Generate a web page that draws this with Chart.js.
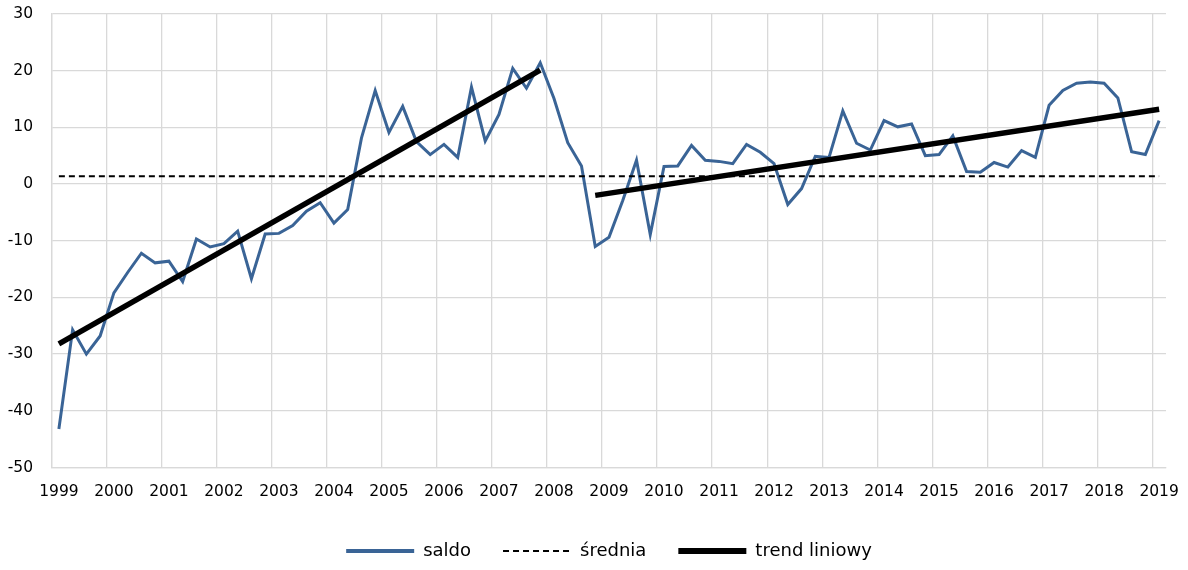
<!DOCTYPE html>
<html>
<head>
<meta charset="utf-8">
<script src="https://cdn.jsdelivr.net/npm/chart.js@4/dist/chart.umd.min.js"></script>
<style>
  html, body { margin: 0; padding: 0; background: #ffffff; }
  #wrap { width: 1188px; height: 570px; position: relative; }
</style>
</head>
<body>
<div id="wrap"><canvas id="c"></canvas></div>
<script>
// ---- data ----
const YEARS = [1999, 2000, 2001, 2002, 2003, 2004, 2005, 2006, 2007, 2008, 2009,
               2010, 2011, 2012, 2013, 2014, 2015, 2016, 2017, 2018, 2019];
const QUARTERS = ['Q1', 'Q2', 'Q3', 'Q4'];

// saldo, quarterly 1999 Q1 – 2019 Q1
const SALDO = [
  -43.2, -25.7, -30.0, -26.8,   // 1999
  -19.2, -15.6, -12.2, -13.9,   // 2000
  -13.6, -17.2,  -9.7, -11.1,   // 2001
  -10.5,  -8.3, -16.7,  -8.8,   // 2002
   -8.7,  -7.3,  -4.8,  -3.3,   // 2003
   -6.9,  -4.5,   8.1,  16.5,   // 2004
    9.1,  13.7,   7.5,   5.2,   // 2005
    7.0,   4.7,  17.1,   7.6,   // 2006
   12.3,  20.4,  16.9,  21.4,   // 2007
   15.1,   7.3,   3.2, -11.0,   // 2008
   -9.4,  -2.9,   4.2,  -8.9,   // 2009
    3.1,   3.2,   6.8,   4.2,   // 2010
    4.0,   3.6,   7.0,   5.6,   // 2011
    3.6,  -3.6,  -0.8,   4.9,   // 2012
    4.7,  12.9,   7.2,   6.0,   // 2013
   11.2,  10.1,  10.6,   5.0,   // 2014
    5.2,   8.5,   2.2,   2.1,   // 2015
    3.8,   3.0,   5.9,   4.7,   // 2016
   13.9,  16.5,  17.8,  18.0,   // 2017
   17.8,  15.2,   5.7,   5.2,   // 2018
   11.2                         // 2019
];
const MEAN_VALUE = 1.4;
// linear trend endpoints: [category index, value]
const TREND_A = [[0, -28.2], [35, 20.1]];
const TREND_B = [[39, -2.0], [80, 13.2]];

const SERIES_NAMES = ['saldo', 'średnia', 'trend liniowy'];
const Y_MIN = -50, Y_MAX = 30, Y_STEP = 10;

// ---- build ----
const LABELS = [];
YEARS.forEach(y => QUARTERS.forEach(q => LABELS.push(y + ' ' + q)));
LABELS.length = SALDO.length;

const pts = arr => arr.map(([i, v]) => ({ x: LABELS[i], y: v }));
const FONT = "'DejaVu Sans', 'Liberation Sans', sans-serif";
const GRID = '#d9d9d9';
const NONE = 'rgba(0,0,0,0)';
const LEGEND_WIDTHS = [4, 2, 6];

new Chart(document.getElementById('c'), {
  type: 'line',
  data: {
    labels: LABELS,
    datasets: [
      {
        label: SERIES_NAMES[0],
        data: SALDO,
        borderColor: '#3a6496',
        backgroundColor: '#3a6496',
        borderWidth: 3,
        pointRadius: 0,
        tension: 0,
        order: 2
      },
      {
        label: SERIES_NAMES[1],
        data: pts([[0, MEAN_VALUE], [SALDO.length - 1, MEAN_VALUE]]),
        borderColor: '#000000',
        backgroundColor: '#000000',
        borderWidth: 2,
        borderDash: [6, 4],
        pointRadius: 0,
        order: 1
      },
      {
        label: SERIES_NAMES[2],
        data: pts(TREND_A),
        borderColor: '#000000',
        backgroundColor: '#000000',
        borderWidth: 5.5,
        pointRadius: 0,
        order: 0
      },
      {
        label: SERIES_NAMES[2] + ' ',
        data: pts(TREND_B),
        borderColor: '#000000',
        backgroundColor: '#000000',
        borderWidth: 5.5,
        pointRadius: 0,
        order: 0
      }
    ]
  },
  options: {
    responsive: true,
    maintainAspectRatio: false,
    animation: false,
    layout: { padding: { top: 14, right: 22, bottom: 0, left: 0 } },
    plugins: {
      tooltip: { enabled: false },
      legend: {
        position: 'bottom',
        fullSize: false,
        labels: {
          filter: item => item.datasetIndex < 3,
          sort: (a, b) => a.datasetIndex - b.datasetIndex,
          generateLabels: chart => {
            const items = Chart.defaults.plugins.legend.labels.generateLabels(chart);
            items.forEach(it => {
              if (it.datasetIndex < 3) it.lineWidth = LEGEND_WIDTHS[it.datasetIndex];
            });
            return items;
          },
          usePointStyle: false,
          boxWidth: 68,
          boxHeight: 0,
          padding: 32,
          color: '#000000',
          font: { family: FONT, size: 18 }
        }
      }
    },
    scales: {
      x: {
        type: 'category',
        offset: true,
        afterFit: s => { s.height = 42.5; },
        grid: {
          offset: true,
          drawTicks: true,
          tickLength: 15,
          tickColor: NONE,
          lineWidth: 1.3,
          color: ctx => (ctx.index % 4 === 0 ? GRID : NONE)
        },
        border: { color: GRID, width: 1.3 },
        ticks: {
          autoSkip: false,
          maxRotation: 0,
          minRotation: 0,
          padding: 0,
          color: '#000000',
          font: { family: FONT, size: 15.5 },
          callback: (v, i) => (i % 4 === 0 ? LABELS[i].slice(0, 4) : '')
        }
      },
      y: {
        min: Y_MIN,
        max: Y_MAX,
        afterFit: s => { s.width = 52; },
        grid: { drawTicks: true, tickLength: 19, tickColor: NONE, color: GRID, lineWidth: 1.3 },
        border: { color: GRID, width: 1.3 },
        ticks: {
          stepSize: Y_STEP,
          padding: 0,
          color: '#000000',
          font: { family: FONT, size: 15.5 }
        }
      }
    }
  }
});
</script>
</body>
</html>
